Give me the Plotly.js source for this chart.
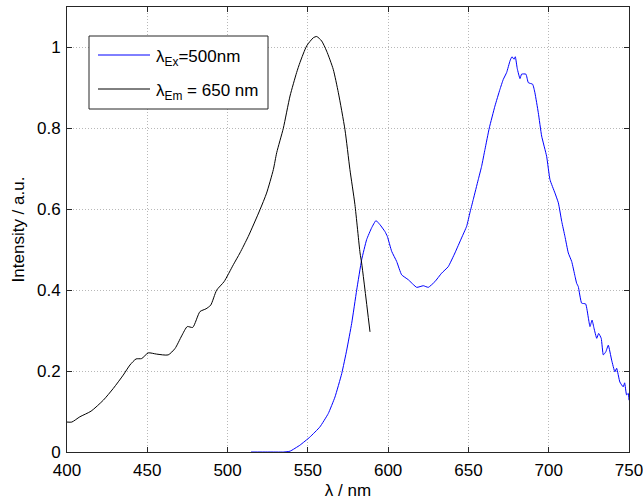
<!DOCTYPE html>
<html>
<head>
<meta charset="utf-8">
<script src="https://cdn.plot.ly/plotly-3.0.1.min.js"></script>
<style>
  html, body { margin: 0; padding: 0; background: #fff; }
  #chart { width: 643px; height: 503px; }
</style>
</head>
<body>
<div id="chart"></div>
<script>
// Excitation spectrum (emission monitored at 650 nm)
var exWavelength = [400, 403, 408, 415, 422.6, 428.8, 435, 439.2, 443, 446.5, 450.6, 455.8, 463, 467.3,
  471.4, 474.9, 478.3, 482.8, 486.6, 489.5, 493.2, 497.8, 503.6, 507.7, 512.9, 520.2, 524.3, 528.5,
  530.6, 534.7, 538.9, 543, 545.1, 549.3, 553.4, 555.5, 558.6, 561.7, 565.8, 569, 573.1, 576.2,
  579.3, 582.5, 583.5, 588.7];
var exIntensity = [0.074, 0.074, 0.087, 0.101, 0.128, 0.157, 0.19, 0.215, 0.23, 0.231, 0.245, 0.242, 0.240, 0.256,
  0.287, 0.31, 0.308, 0.347, 0.354, 0.363, 0.40, 0.421, 0.463, 0.492, 0.533, 0.599, 0.64, 0.698,
  0.74, 0.80, 0.88, 0.938, 0.963, 1.004, 1.024, 1.027, 1.016, 0.991, 0.946, 0.888, 0.797, 0.698,
  0.612, 0.492, 0.467, 0.297];

// Emission spectrum (excited at 500 nm)
var emWavelength = [514.6, 525, 535, 538.9, 545.1, 551.3, 557.5, 562.7, 566.9, 571.1, 574.2, 577.3, 580.4,
  583.5, 586.6, 589.7, 592.4, 594.9, 598, 599.5, 602.2, 605.3, 608.4, 612.5, 617.8, 621.9, 625,
  629.1, 633.3, 637.4, 641.6, 645.7, 648.9, 650.9, 653, 656.1, 658.2, 660.3, 663, 666.5, 669.6,
  671.7, 673.8, 675.9, 677.1, 678.4, 679.2, 680.4, 682.1, 683.1, 685.8, 687.3, 690, 691.4, 693.5,
  695.6, 698.7, 700.8, 703.9, 706, 708.1, 710.1, 712.2, 714.3, 716.4, 717.4, 718.4, 720.5, 723,
  724.7, 725.7, 727, 728.2, 729.9, 731.1, 732.7, 734, 735.6, 737.1, 739.2, 741.2, 742.3, 744.3,
  746.4, 747.3, 748.5, 749.5, 750];
var emIntensity = [0, 0, 0, 0.002, 0.017, 0.037, 0.062, 0.095, 0.136, 0.194, 0.252, 0.318, 0.40,
  0.475, 0.525, 0.554, 0.572, 0.562, 0.545, 0.533, 0.496, 0.471, 0.438, 0.426, 0.407, 0.411, 0.407,
  0.421, 0.442, 0.458, 0.492, 0.529, 0.558, 0.591, 0.624, 0.673, 0.706, 0.748, 0.801, 0.855, 0.896,
  0.921, 0.938, 0.967, 0.977, 0.971, 0.977, 0.948, 0.923, 0.934, 0.934, 0.913, 0.909, 0.888, 0.839,
  0.781, 0.731, 0.673, 0.640, 0.616, 0.570, 0.533, 0.492, 0.471, 0.434, 0.417, 0.409, 0.368, 0.366,
  0.331, 0.310, 0.326, 0.306, 0.281, 0.293, 0.281, 0.240, 0.248, 0.264, 0.227, 0.198, 0.207, 0.173,
  0.161, 0.171, 0.141, 0.145, 0.128];

var xTicks = [400, 450, 500, 550, 600, 650, 700, 750];
var yTicks = [0, 0.2, 0.4, 0.6, 0.8, 1];
var yTickLabels = ['0', '0.2', '0.4', '0.6', '0.8', '1'];

var seriesNames = ['λ<sub>Ex</sub>=500nm', 'λ<sub>Em</sub> = 650 nm'];
var seriesColors = ['#0000ff', '#000000'];

var FONT = 'Liberation Sans, Arial, Helvetica, sans-serif';

var traces = [
  { x: emWavelength, y: emIntensity, name: seriesNames[0], type: 'scatter', mode: 'lines',
    line: { color: seriesColors[0], width: 1, shape: 'spline', smoothing: 0.4 }, showlegend: false },
  { x: exWavelength, y: exIntensity, name: seriesNames[1], type: 'scatter', mode: 'lines',
    line: { color: seriesColors[1], width: 1, shape: 'spline', smoothing: 0.6 }, showlegend: false }
];

var axisCommon = {
  showline: true, linecolor: '#262626', linewidth: 1, mirror: 'ticks',
  ticks: 'inside', ticklen: 5, tickcolor: '#262626', tickwidth: 1,
  showgrid: true, gridcolor: '#b8b8b8', griddash: '1px,2px', gridwidth: 1,
  zeroline: false, ticklabeloverflow: 'allow',
  tickfont: { family: FONT, size: 17, color: '#000' }
};

// Hand-built legend box in the upper-left corner of the axes
function px2x(p) { return (p - 67) / 562; }
function px2y(p) { return (452 - p) / 445; }
var legendRows = [55, 89];
var shapes = [
  { type: 'rect', xref: 'paper', yref: 'paper', x0: px2x(89), x1: px2x(268), y0: px2y(109), y1: px2y(36),
    line: { color: '#262626', width: 1 }, fillcolor: '#ffffff', layer: 'above' }
];
var annotations = [];
legendRows.forEach(function (row, i) {
  shapes.push({ type: 'line', xref: 'paper', yref: 'paper', x0: px2x(98), x1: px2x(150),
    y0: px2y(row), y1: px2y(row), line: { color: seriesColors[i], width: 1 }, layer: 'above' });
  annotations.push({ xref: 'paper', yref: 'paper', x: px2x(154), y: px2y(row + 3),
    xanchor: 'left', yanchor: 'middle', showarrow: false, text: seriesNames[i],
    font: { family: FONT, size: 17, color: '#000' } });
});

var layout = {
  width: 643, height: 503,
  margin: { l: 67, r: 14, t: 7, b: 51, pad: 0 },
  paper_bgcolor: '#ffffff', plot_bgcolor: '#ffffff',
  xaxis: Object.assign({}, axisCommon, {
    range: [400, 750], tickvals: xTicks, ticktext: xTicks.map(String), ticklabelstandoff: 3,
    title: { text: 'λ / nm', font: { family: FONT, size: 17, color: '#000' }, standoff: 4 }
  }),
  yaxis: Object.assign({}, axisCommon, {
    range: [0, 1.1], tickvals: yTicks, ticktext: yTickLabels, ticklabelstandoff: 2,
    title: { text: 'Intensity / a.u.', font: { family: FONT, size: 17, color: '#000' }, standoff: 8 }
  }),
  shapes: shapes,
  annotations: annotations,
  showlegend: false
};

Plotly.newPlot('chart', traces, layout, { displayModeBar: false, staticPlot: true });
</script>
</body>
</html>
